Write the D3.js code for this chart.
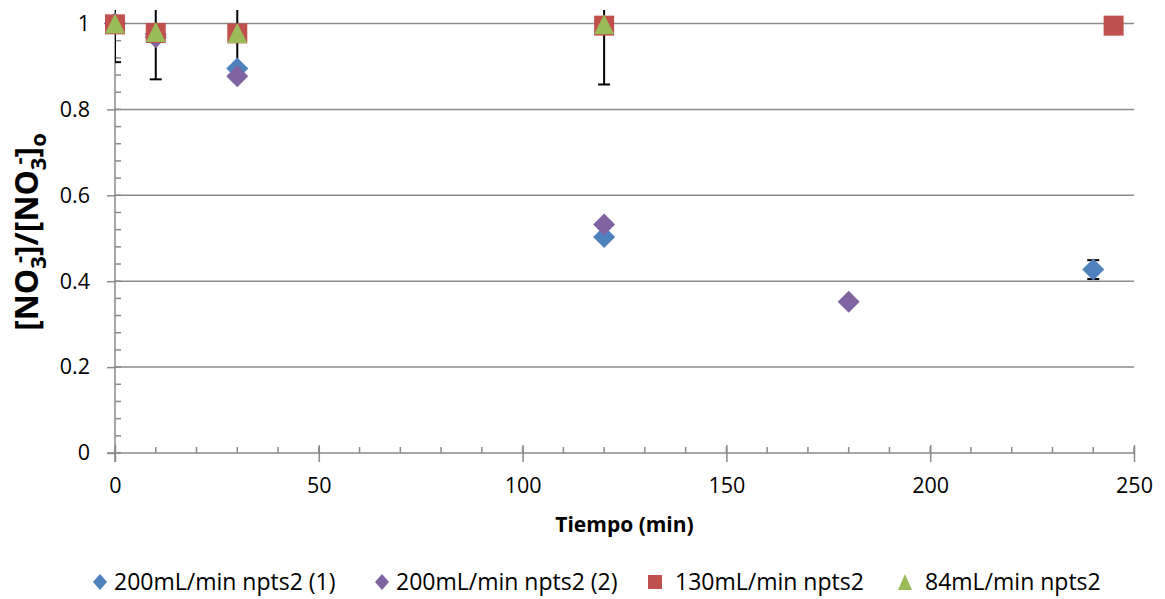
<!DOCTYPE html>
<html>
<head>
<meta charset="utf-8">
<script src="https://cdn.jsdelivr.net/npm/d3@7"></script>
<style>
  body { margin: 0; background: #fff; }
  text { font-family: "Open Sans", "Noto Sans", sans-serif; fill: #000; }
</style>
</head>
<body>
<div id="chart"></div>
<script>
// values
var seriesNames = ["200mL/min npts2 (1)", "200mL/min npts2 (2)", "130mL/min npts2", "84mL/min npts2"];
var seriesColors = ["#4F81BD", "#8064A2", "#C0504D", "#9BBB59"];
var seriesShapes = ["diamond", "diamond", "square", "triangle"];

var s1Time = [0, 10, 30, 120, 240];
var s1Val = [1.0, 0.975, 0.895, 0.503, 0.427];
var s1Err = [0, 0, 0, 0, 0.022];

var s2Time = [0, 10, 30, 120, 180];
var s2Val = [1.0, 0.968, 0.877, 0.532, 0.352];
var s2Err = [0, 0, 0, 0, 0];

var s3Time = [0, 10, 30, 120, 245];
var s3Val = [0.998, 0.978, 0.977, 0.995, 0.995];
var s3Err = [0, 0, 0, 0, 0];

var s4Time = [0, 10, 30, 120];
var s4Val = [1.0, 0.98, 0.978, 0.998];
var s4Err = [0.09, 0.11, 0.1, 0.14];

var xTicks = [0, 50, 100, 150, 200, 250];
var yTicks = [0, 0.2, 0.4, 0.6, 0.8, 1];

var series = [
    {t: s1Time, v: s1Val, e: s1Err},
    {t: s2Time, v: s2Val, e: s2Err},
    {t: s3Time, v: s3Val, e: s3Err},
    {t: s4Time, v: s4Val, e: s4Err}
];

var w = 1165, h = 599;
var pLeft = 115, pRight = 1134, pTop = 10, pBottom = 453;

var svg = d3.select("#chart").append("svg")
    .attr("width", w)
    .attr("height", h);

var x = d3.scaleLinear().domain([0, 250]).range([pLeft, pRight]);
var y = d3.scaleLinear().domain([0, 1]).range([pBottom, 23.5]);

svg.append("defs").append("clipPath").attr("id", "plot")
    .append("rect")
    .attr("x", pLeft).attr("y", pTop)
    .attr("width", pRight - pLeft).attr("height", pBottom - pTop);

// gridlines
svg.append("g").selectAll("line")
    .data(yTicks.filter(function(d) { return d > 0; }))
    .enter().append("line")
    .attr("x1", pLeft).attr("x2", pRight)
    .attr("y1", function(d) { return y(d); })
    .attr("y2", function(d) { return y(d); })
    .attr("stroke", "#8c8c8c")
    .attr("stroke-width", 1.5);

// minor ticks
var xMinor = d3.range(0, 251, 10);
var yMinor = d3.range(0, 1.03, 0.04);

var axisCol = "#8a8a8a";

svg.append("g").selectAll("line")
    .data(xMinor)
    .enter().append("line")
    .attr("x1", function(d) { return x(d); })
    .attr("x2", function(d) { return x(d); })
    .attr("y1", pBottom).attr("y2", pBottom - 6)
    .attr("stroke", axisCol).attr("stroke-width", 1.5);

svg.append("g").selectAll("line")
    .data(yMinor)
    .enter().append("line")
    .attr("x1", pLeft).attr("x2", pLeft + 6)
    .attr("y1", function(d) { return y(d); })
    .attr("y2", function(d) { return y(d); })
    .attr("stroke", axisCol).attr("stroke-width", 1.5);

// axes
var xAxis = svg.append("g")
    .attr("transform", "translate(0," + pBottom + ")")
    .call(d3.axisBottom(x).tickValues(xTicks).tickSize(9).tickPadding(16).tickFormat(d3.format("d")));
xAxis.select(".domain").attr("stroke", axisCol).attr("stroke-width", 1.5)
    .attr("d", "M" + (pLeft - 8) + ",0H" + pRight);
xAxis.selectAll(".tick line").attr("stroke", axisCol).attr("stroke-width", 1.5).attr("y1", -8);
xAxis.selectAll(".tick text").style("font-size", "21.5px").attr("fill", "#000");

var yAxis = svg.append("g")
    .attr("transform", "translate(" + pLeft + ",0)")
    .call(d3.axisLeft(y).tickValues(yTicks).tickSize(8).tickPadding(17).tickFormat(function(d) { return String(d); }));
yAxis.select(".domain").attr("stroke", axisCol).attr("stroke-width", 1.5)
    .attr("d", "M0," + pTop + "V" + (pBottom + 9));
yAxis.selectAll(".tick line").attr("stroke", axisCol).attr("stroke-width", 1.5).attr("x2", -8);
yAxis.selectAll(".tick text").style("font-size", "21.5px").attr("fill", "#000");

// error bars (behind markers)
var errG = svg.append("g").attr("clip-path", "url(#plot)");
series.forEach(function(s) {
    s.t.forEach(function(t, i) {
        var e = s.e[i];
        if (!e) return;
        var cx = x(t), lo = y(s.v[i] - e), hi = y(s.v[i] + e);
        errG.append("line").attr("x1", cx).attr("x2", cx).attr("y1", lo).attr("y2", hi)
            .attr("stroke", "#000").attr("stroke-width", 2);
        [lo, hi].forEach(function(yy) {
            errG.append("line").attr("x1", cx - 6).attr("x2", cx + 6).attr("y1", yy).attr("y2", yy)
                .attr("stroke", "#000").attr("stroke-width", 2);
        });
    });
});

function shapePath(shape, sw, sh) {
    var a = sw / 2, b = sh / 2;
    if (shape == "diamond") return "M0," + (-b) + "L" + a + ",0L0," + b + "L" + (-a) + ",0Z";
    if (shape == "square") return "M" + (-a) + "," + (-b) + "h" + sw + "v" + sh + "h" + (-sw) + "Z";
    return "M0," + (-b) + "L" + a + "," + b + "L" + (-a) + "," + b + "Z";
}

// markers
series.forEach(function(s, k) {
    var sz = seriesShapes[k] == "diamond" ? 22 : 20;
    svg.append("g").selectAll("path")
        .data(s.t.map(function(t, i) { return [t, s.v[i]]; }))
        .enter().append("path")
        .attr("transform", function(d) { return "translate(" + x(d[0]) + "," + y(d[1]) + ")"; })
        .attr("d", shapePath(seriesShapes[k], sz, sz))
        .attr("fill", seriesColors[k]);
});

// axis titles
svg.append("text")
    .attr("x", (pLeft + pRight) / 2).attr("y", 532)
    .attr("text-anchor", "middle")
    .style("font-size", "21px").style("font-weight", "bold")
    .text("Tiempo (min)");

var yt = svg.append("text")
    .attr("transform", "translate(38,232) rotate(-90)")
    .attr("text-anchor", "middle")
    .style("font-size", "32px").style("font-weight", "bold");
yt.append("tspan").text("[NO");
yt.append("tspan").attr("dy", 8).style("font-size", "22px").text("3");
yt.append("tspan").attr("dy", -20).attr("dx", -7).style("font-size", "22px").text("-");
yt.append("tspan").attr("dy", 12).text("]/[NO");
yt.append("tspan").attr("dy", 8).style("font-size", "22px").text("3");
yt.append("tspan").attr("dy", -20).attr("dx", -7).style("font-size", "22px").text("-");
yt.append("tspan").attr("dy", 12).text("]");
yt.append("tspan").attr("dy", 8).style("font-size", "22px").text("o");

// legend
var legX = [100, 382, 655, 905];
var leg = svg.append("g");
seriesNames.forEach(function(name, k) {
    var g = leg.append("g").attr("transform", "translate(" + legX[k] + ",582)");
    g.append("path").attr("d", shapePath(seriesShapes[k], 14, seriesShapes[k] == "square" ? 14 : 16))
        .attr("fill", seriesColors[k]);
    g.append("text").attr("x", k < 2 ? 14 : 20).attr("y", 8).style("font-size", "23px").text(name);
});
</script>
</body>
</html>
